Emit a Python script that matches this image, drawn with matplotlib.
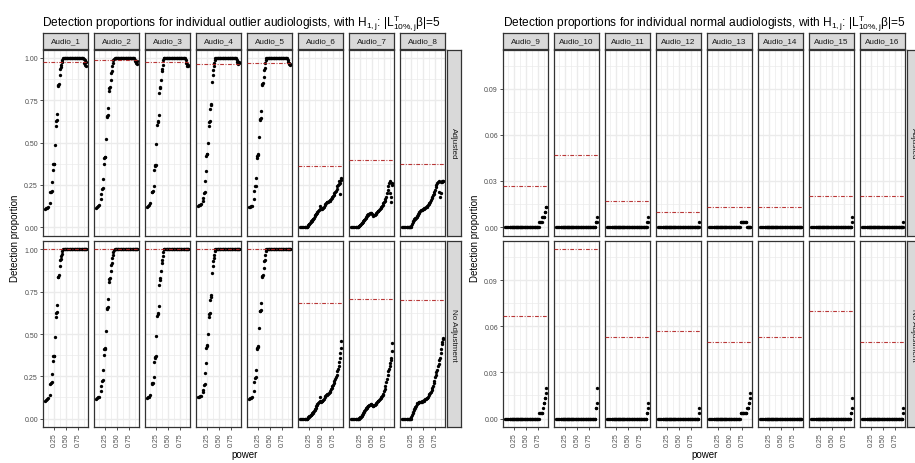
import matplotlib
matplotlib.use('Agg')
import matplotlib.pyplot as plt

plt.rcParams['font.family'] = ['Liberation Sans', 'DejaVu Sans']
plt.rcParams['mathtext.fontset'] = 'custom'
plt.rcParams['mathtext.rm'] = 'Liberation Sans'
plt.rcParams['mathtext.it'] = 'Liberation Sans:italic'
plt.rcParams['mathtext.bf'] = 'Liberation Sans:bold'

# ---- data ----
# shared power grid (x)
power = [0.055, 0.075, 0.090, 0.110, 0.150, 0.170, 0.180, 0.195, 0.205, 0.220,
         0.230, 0.240, 0.250, 0.265, 0.280, 0.288, 0.298, 0.310, 0.322, 0.332,
         0.345, 0.362, 0.375, 0.385, 0.398, 0.410, 0.425, 0.440, 0.455, 0.470,
         0.485, 0.500, 0.515, 0.530, 0.545, 0.560, 0.575, 0.590, 0.605, 0.620,
         0.635, 0.650, 0.665, 0.680, 0.695, 0.710, 0.725, 0.740, 0.755, 0.770,
         0.785, 0.800, 0.815, 0.830, 0.845, 0.860, 0.875, 0.890, 0.900, 0.910,
         0.920, 0.927]

outlier_names = ['Audio_1', 'Audio_2', 'Audio_3', 'Audio_4',
                 'Audio_5', 'Audio_6', 'Audio_7', 'Audio_8']
normal_names = ['Audio_9', 'Audio_10', 'Audio_11', 'Audio_12',
                'Audio_13', 'Audio_14', 'Audio_15', 'Audio_16']
row_names = ['Adjusted', 'No Adjustment']

# Audio_1..5: rising part (first 28 powers) is the same with and without adjustment
rise_1 = [0.105, 0.11, 0.115, 0.12, 0.14, 0.205, 0.21, 0.215, 0.265, 0.34,
          0.37, 0.372, 0.37, 0.485, 0.60, 0.625, 0.632, 0.67, 0.835, 0.84,
          0.848, 0.90, 0.935, 0.945, 0.96, 0.975, 0.99, 1.0]
rise_2 = [0.115, 0.12, 0.125, 0.13, 0.165, 0.195, 0.225, 0.228, 0.285, 0.375,
          0.41, 0.415, 0.412, 0.52, 0.65, 0.655, 0.66, 0.705, 0.805, 0.825,
          0.83, 0.87, 0.91, 0.92, 0.95, 0.97, 0.985, 0.995]
rise_3 = [0.12, 0.125, 0.13, 0.14, 0.205, 0.21, 0.212, 0.245, 0.335, 0.36,
          0.365, 0.368, 0.49, 0.605, 0.62, 0.625, 0.665, 0.79, 0.82, 0.83,
          0.87, 0.92, 0.935, 0.96, 0.985, 1.0, 1.0, 1.0]
rise_4 = [0.125, 0.13, 0.132, 0.135, 0.155, 0.17, 0.2, 0.205, 0.27, 0.33,
          0.42, 0.43, 0.432, 0.5, 0.6, 0.62, 0.625, 0.7, 0.72, 0.73,
          0.86, 0.9, 0.93, 0.95, 0.97, 0.99, 1.0, 1.0]
rise_5 = [0.118, 0.12, 0.122, 0.125, 0.165, 0.215, 0.242, 0.245, 0.29, 0.41,
          0.42, 0.43, 0.425, 0.535, 0.635, 0.638, 0.642, 0.685, 0.84, 0.845,
          0.85, 0.89, 0.93, 0.94, 0.97, 0.99, 1.0, 1.0]
plateau = [1.0, 1.0, 1.0, 1.0, 1.0, 1.0, 1.0, 1.0, 1.0, 1.0,
           1.0, 1.0, 1.0, 1.0, 1.0, 1.0, 1.0, 1.0, 1.0, 1.0,
           1.0, 1.0, 1.0, 1.0, 1.0, 1.0, 1.0, 1.0]
end_full = [1.0, 1.0, 1.0, 1.0, 1.0, 1.0]
end_adj_1 = [0.995, 0.97, 0.985, 0.96, 0.975, 0.955]
end_adj_2 = [0.99, 0.98, 0.975, 0.97, 0.98, 0.965]
end_adj_3 = [0.99, 0.97, 0.955, 0.965, 0.95, 0.96]
end_adj_4 = [0.99, 0.975, 0.97, 0.965, 0.975, 0.97]
end_adj_5 = [0.99, 0.975, 0.965, 0.97, 0.96, 0.965]

a6_adj = [0, 0, 0, 0, 0, 0, 0, 0, 0, 0.005,
          0.01, 0.016, 0.02, 0.025, 0.03, 0.033, 0.037, 0.041, 0.045, 0.048,
          0.055, 0.063, 0.07, 0.075, 0.08, 0.085, 0.09, 0.096, 0.1, 0.106,
          0.125, 0.105, 0.107, 0.11, 0.112, 0.12, 0.13, 0.137, 0.142, 0.146,
          0.148, 0.15, 0.152, 0.155, 0.16, 0.167, 0.174, 0.18, 0.185, 0.19,
          0.2, 0.208, 0.215, 0.225, 0.24, 0.25, 0.255, 0.27, 0.195, 0.26,
          0.28, 0.29]
a6_noadj = [0, 0, 0, 0, 0, 0, 0, 0, 0, 0.004,
            0.007, 0.01, 0.013, 0.017, 0.02, 0.022, 0.024, 0.03, 0.035, 0.04,
            0.045, 0.052, 0.058, 0.065, 0.072, 0.08, 0.086, 0.093, 0.098, 0.104,
            0.13, 0.1, 0.102, 0.105, 0.11, 0.118, 0.127, 0.134, 0.138, 0.142,
            0.145, 0.148, 0.151, 0.155, 0.162, 0.172, 0.182, 0.192, 0.2, 0.21,
            0.22, 0.232, 0.245, 0.26, 0.28, 0.295, 0.31, 0.335, 0.36, 0.39,
            0.42, 0.457]
a7_adj = [0, 0, 0, 0, 0, 0, 0, 0, 0, 0.004,
          0.008, 0.012, 0.015, 0.019, 0.022, 0.026, 0.03, 0.035, 0.04, 0.043,
          0.047, 0.055, 0.062, 0.067, 0.07, 0.073, 0.076, 0.08, 0.082, 0.084,
          0.085, 0.078, 0.07, 0.067, 0.07, 0.074, 0.078, 0.082, 0.087, 0.092,
          0.097, 0.102, 0.106, 0.112, 0.12, 0.126, 0.132, 0.14, 0.148, 0.156,
          0.164, 0.18, 0.2, 0.22, 0.245, 0.26, 0.2, 0.27, 0.15, 0.18,
          0.25, 0.26]
a7_noadj = [0, 0, 0, 0, 0, 0, 0, 0, 0, 0,
            0.002, 0.005, 0.008, 0.012, 0.017, 0.02, 0.024, 0.03, 0.037, 0.042,
            0.049, 0.055, 0.06, 0.064, 0.068, 0.072, 0.076, 0.08, 0.083, 0.086,
            0.088, 0.082, 0.076, 0.074, 0.078, 0.082, 0.087, 0.092, 0.097, 0.101,
            0.105, 0.109, 0.113, 0.119, 0.126, 0.132, 0.138, 0.147, 0.16, 0.172,
            0.195, 0.215, 0.235, 0.26, 0.28, 0.295, 0.31, 0.33, 0.345, 0.36,
            0.4, 0.448]
a8_adj = [0, 0, 0, 0, 0, 0, 0, 0, 0, 0,
          0, 0, 0.008, 0.02, 0.03, 0.034, 0.04, 0.045, 0.048, 0.051,
          0.054, 0.062, 0.068, 0.074, 0.078, 0.083, 0.088, 0.094, 0.098, 0.1,
          0.103, 0.106, 0.109, 0.112, 0.115, 0.117, 0.12, 0.125, 0.13, 0.135,
          0.142, 0.15, 0.16, 0.17, 0.178, 0.188, 0.198, 0.208, 0.22, 0.235,
          0.25, 0.26, 0.265, 0.27, 0.21, 0.18, 0.2, 0.265, 0.27, 0.268,
          0.272, 0.27]
a8_noadj = [0, 0, 0, 0, 0, 0, 0, 0, 0, 0,
            0, 0, 0.01, 0.022, 0.035, 0.04, 0.048, 0.055, 0.063, 0.07,
            0.077, 0.085, 0.09, 0.092, 0.094, 0.095, 0.096, 0.097, 0.098, 0.1,
            0.101, 0.103, 0.106, 0.11, 0.114, 0.118, 0.121, 0.124, 0.13, 0.137,
            0.143, 0.15, 0.158, 0.168, 0.18, 0.195, 0.21, 0.225, 0.245, 0.26,
            0.275, 0.29, 0.31, 0.325, 0.345, 0.36, 0.385, 0.41, 0.44, 0.455,
            0.468, 0.477]

# normal audiologists: zero over the first 45 powers, tails for the last 17
lead_zero = [0, 0, 0, 0, 0, 0, 0, 0, 0, 0,
             0, 0, 0, 0, 0, 0, 0, 0, 0, 0,
             0, 0, 0, 0, 0, 0, 0, 0, 0, 0,
             0, 0, 0, 0, 0, 0, 0, 0, 0, 0,
             0, 0, 0, 0, 0]
t9_adj = [0, 0, 0, 0, 0, 0.0033, 0.0033, 0.0033, 0.0033, 0.0067, 0.0067, 0.0067, 0.0067, 0.01, 0.01, 0.0133, 0.0133]
t9_noadj = [0, 0, 0, 0, 0, 0.0033, 0.0033, 0.0033, 0.0033, 0.0033, 0.0067, 0.01, 0.01, 0.0133, 0.0133, 0.0167, 0.02]
t10_adj = [0, 0, 0, 0, 0, 0, 0, 0, 0, 0, 0, 0, 0, 0.0033, 0.0033, 0.0033, 0.0067]
t10_noadj = [0, 0, 0, 0, 0, 0, 0, 0, 0, 0, 0, 0, 0, 0.0067, 0.0067, 0.01, 0.02]
t11_adj = [0, 0, 0, 0, 0, 0, 0, 0, 0, 0, 0, 0, 0, 0, 0.0033, 0.0033, 0.0067]
t11_noadj = [0, 0, 0, 0, 0, 0, 0, 0, 0, 0, 0, 0, 0, 0.0033, 0.0033, 0.0067, 0.01]
t12_adj = [0, 0, 0, 0, 0, 0, 0, 0, 0, 0, 0, 0, 0, 0, 0, 0, 0.0033]
t12_noadj = [0, 0, 0, 0, 0, 0, 0, 0, 0, 0, 0, 0, 0, 0, 0, 0.0033, 0.0067]
t13_adj = [0, 0.0033, 0.0033, 0.0033, 0.0033, 0.0033, 0.0033, 0.0033, 0.0033, 0.0033, 0, 0, 0, 0, 0, 0, 0]
t13_noadj = [0, 0.0033, 0.0033, 0.0033, 0.0033, 0.0033, 0.0033, 0.0033, 0.0033, 0.0033, 0.0067, 0.0067, 0.0067, 0.01, 0.01, 0.0133, 0.0167]
t14_adj = [0, 0, 0, 0, 0, 0, 0, 0, 0, 0, 0, 0, 0, 0, 0, 0, 0]
t14_noadj = [0, 0, 0, 0, 0, 0, 0, 0, 0, 0, 0, 0, 0, 0, 0, 0, 0]
t15_adj = [0, 0, 0, 0, 0, 0, 0, 0, 0, 0, 0, 0, 0, 0, 0, 0.0033, 0.0067]
t15_noadj = [0, 0, 0, 0, 0, 0, 0, 0, 0, 0, 0, 0, 0, 0.0033, 0.0033, 0.0067, 0.0133]
t16_adj = [0, 0, 0, 0, 0, 0, 0, 0, 0, 0, 0, 0, 0, 0, 0, 0, 0.0033]
t16_noadj = [0, 0, 0, 0, 0, 0, 0, 0, 0, 0, 0, 0, 0, 0, 0, 0.0033, 0.0067]

# reference (red dash-dot) levels
hl_out_adj = [0.975, 0.985, 0.975, 0.965, 0.972, 0.36, 0.394, 0.37]
hl_out_noadj = [1.0, 1.0, 1.0, 1.0, 1.0, 0.685, 0.708, 0.70]
hl_norm_adj = [0.0267, 0.0467, 0.0167, 0.01, 0.0133, 0.0133, 0.02, 0.02]
hl_norm_noadj = [0.0667, 0.11, 0.0533, 0.0567, 0.05, 0.0533, 0.07, 0.05]

out_adj = [rise_1 + plateau + end_adj_1, rise_2 + plateau + end_adj_2,
           rise_3 + plateau + end_adj_3, rise_4 + plateau + end_adj_4,
           rise_5 + plateau + end_adj_5, a6_adj, a7_adj, a8_adj]
out_noadj = [rise_1 + plateau + end_full, rise_2 + plateau + end_full,
             rise_3 + plateau + end_full, rise_4 + plateau + end_full,
             rise_5 + plateau + end_full, a6_noadj, a7_noadj, a8_noadj]
norm_adj = [lead_zero + t for t in [t9_adj, t10_adj, t11_adj, t12_adj,
                                    t13_adj, t14_adj, t15_adj, t16_adj]]
norm_noadj = [lead_zero + t for t in [t9_noadj, t10_noadj, t11_noadj, t12_noadj,
                                      t13_noadj, t14_noadj, t15_noadj, t16_noadj]]

# ---- layout (pixels) ----
W, H = 915, 464
fig = plt.figure(figsize=(W / 100, H / 100), dpi=100)

GRID = '#EBEBEB'
DARK = '#333333'
RED = '#B22222'
row_tops = [50.5, 242.0]
row_h = 186.0
facet_w = 45.2
facet_step = 51.0

pad = 0.05 * (max(power) - min(power))
xlim = (min(power) - pad, max(power) + pad)


def px_axes(left, top, width, height):
    return fig.add_axes([left / W, 1 - (top + height) / H, width / W, height / H])


def strip(left, top, width, height, label, rot=0):
    ax = px_axes(left, top, width, height)
    ax.set_xticks([])
    ax.set_yticks([])
    ax.set_facecolor('#D9D9D9')
    for s in ax.spines.values():
        s.set_color(DARK)
        s.set_linewidth(0.9)
    ax.text(0.5, 0.5, label, transform=ax.transAxes, ha='center', va='center',
            fontsize=5.9, color='#1A1A1A', rotation=rot)


def draw_grid(left0, names, rows, hlines, ylim, yticks, yminor, ylabels, title):
    for r in range(2):
        for c in range(8):
            left = left0 + c * facet_step
            ax = px_axes(left, row_tops[r], facet_w, row_h)
            ax.set_xlim(xlim)
            ax.set_ylim(ylim)
            for v in [0.125, 0.375, 0.625, 0.875]:
                ax.axvline(v, color=GRID, lw=0.5, zorder=0)
            for v in [0.25, 0.5, 0.75]:
                ax.axvline(v, color=GRID, lw=1.0, zorder=0)
            for v in yminor:
                ax.axhline(v, color=GRID, lw=0.5, zorder=0)
            for v in yticks:
                ax.axhline(v, color=GRID, lw=1.0, zorder=0)
            ax.plot(power, rows[r][c], 'o', ms=2.4, mew=0, color='black', zorder=3)
            ax.axhline(hlines[r][c], color=RED, lw=0.8, alpha=0.9,
                       dashes=(3.4, 1.4, 0.9, 1.4), zorder=4)
            for s in ax.spines.values():
                s.set_color(DARK)
                s.set_linewidth(0.9)
            ax.set_xticks([0.25, 0.5, 0.75])
            ax.set_yticks(yticks)
            ax.tick_params(length=2.2, width=0.6, color=DARK, labelsize=5.0,
                           labelcolor='#4D4D4D', pad=1.4)
            if c == 0:
                ax.set_yticklabels(ylabels)
            else:
                ax.tick_params(axis='y', length=0, labelleft=False)
            if r == 1:
                ax.set_xticklabels(['0.25', '0.50', '0.75'], rotation=90)
            else:
                ax.tick_params(axis='x', length=0, labelbottom=False)
            if r == 0:
                strip(left, 34.0, facet_w, 15.5, names[c])
        strip(left0 + 7 * facet_step + facet_w + 1.5, row_tops[r], 14.5, row_h,
              row_names[r], rot=-90)
    right = left0 + 7 * facet_step + facet_w
    cx = (left0 + right) / 2
    fig.text(cx / W, 1 - 455 / H, 'power', ha='center', va='center', fontsize=7.0)
    fig.text((left0 - 28) / W, 1 - 238 / H, 'Detection proportion', ha='center',
             va='center', rotation=90, fontsize=7.0)
    fig.text((left0 - 0.5) / W, 1 - 27 / H, title, ha='left', va='baseline',
             fontsize=8.6)


title_l = (r'Detection proportions for individual outlier audiologists, with '
           r'$\mathregular{H_{1,j}}$: |$\mathregular{L^{T}_{10\%,j}}$β|=5')
title_r = (r'Detection proportions for individual normal audiologists, with '
           r'$\mathregular{H_{1,j}}$: |$\mathregular{L^{T}_{10\%,j}}$β|=5')

draw_grid(43.0, outlier_names, [out_adj, out_noadj], [hl_out_adj, hl_out_noadj],
          (-0.05, 1.05), [0, 0.25, 0.5, 0.75, 1.0], [0.125, 0.375, 0.625, 0.875],
          ['0.00', '0.25', '0.50', '0.75', '1.00'], title_l)
draw_grid(503.0, normal_names, [norm_adj, norm_noadj], [hl_norm_adj, hl_norm_noadj],
          (-0.0055, 0.1155), [0, 0.03, 0.06, 0.09], [0.015, 0.045, 0.075, 0.105],
          ['0.00', '0.03', '0.06', '0.09'], title_r)

fig.savefig('out.png', dpi=100)
